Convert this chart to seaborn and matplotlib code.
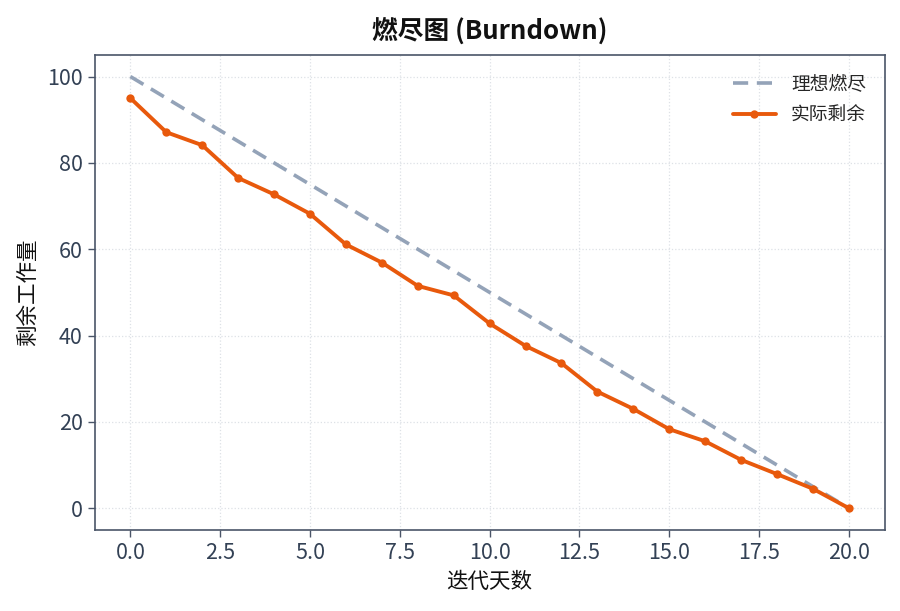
import numpy as np
import pandas as pd
import matplotlib
matplotlib.use("Agg")
import matplotlib.pyplot as plt
import seaborn as sns

days = list(range(21))
ideal = [100 - 5 * d for d in days]
actual = [95.0, 87.1, 84.1, 76.5, 72.7, 68.2, 61.1, 56.9, 51.5, 49.3, 42.8,
          37.6, 33.6, 27.0, 23.0, 18.3, 15.5, 11.2, 7.9, 4.5, 0.0]

title = "燃尽图 (Burndown)"
xlabel = "迭代天数"
ylabel = "剩余工作量"
label_ideal = "理想燃尽"
label_actual = "实际剩余"

sns.set_theme(style="white")
plt.rcParams['font.family'] = ['Noto Sans CJK SC', 'DejaVu Sans']
plt.rcParams['axes.unicode_minus'] = False

spine_c = "#4a5568"
text_c = "#334155"

fig = plt.figure(figsize=(9, 6.11), dpi=100)
ax = fig.add_axes([0.105, 0.133, 0.878, 0.777])

df = pd.DataFrame({"day": days, "ideal": ideal, "actual": actual})
sns.lineplot(data=df, x="day", y="ideal", ax=ax, color="#94a3b8", lw=2.6,
             linestyle=(0, (4.2, 2.4)), label=label_ideal)
sns.lineplot(data=df, x="day", y="actual", ax=ax, color="#e8590c", lw=2.8,
             marker="o", markersize=6, markeredgewidth=0, label=label_actual)

ax.grid(True, linestyle=":", color="#dde1e6", linewidth=0.9)
for s in ax.spines.values():
    s.set_color(spine_c)
    s.set_linewidth(1.2)
ax.tick_params(axis="both", which="both", direction="out", length=5, width=1,
               color=spine_c, labelcolor=text_c, labelsize=15.5, bottom=True, left=True)
ax.set_xlabel(xlabel, fontsize=15.5, color="#111111", labelpad=5)
ax.set_ylabel(ylabel, fontsize=15.5, color="#111111", labelpad=6)
ax.set_title(title, fontsize=18.5, fontweight="bold", color="#111111", pad=12)

leg = ax.legend(loc="upper right", frameon=False, fontsize=13.5, handlelength=2.3,
                handletextpad=0.8, labelspacing=0.55, borderaxespad=0.6)

fig.savefig("out.png", dpi=100, facecolor="white")
